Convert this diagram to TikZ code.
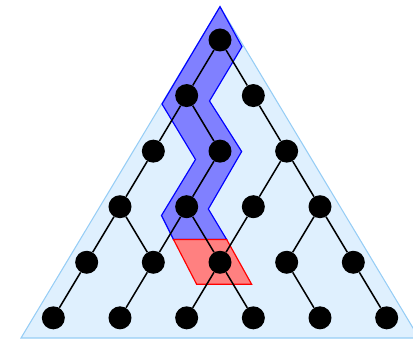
\documentclass[tikz,border=0pt]{standalone}
\definecolor{trifill}{RGB}{223,240,254}
\definecolor{triline}{RGB}{150,205,245}
\begin{document}
\begin{tikzpicture}[
        dot/.style={circle, fill=black, inner sep=0pt, minimum size=0.69cm},
        link/.style={line width=1.3pt, black}
    ]

    \useasboundingbox (-6.6,-8.97) rectangle (5.79,1.2);

    % Triangle
    \draw[triline, fill=trifill, line width=0.9pt] (0,1) -- (-5.97,-8.94) -- (5.97,-8.94) -- cycle;

    % Blue band
    \draw[blue, fill=blue!50, line width=1pt] (0,1) -- (0.66,-0.2) -- (-0.315,-1.83) -- (0.65,-3.345)
        -- (-0.35,-5.07) -- (0.2,-5.985) -- (-1.395,-5.985) -- (-1.755,-5.265)
        -- (-0.735,-3.585) -- (-1.74,-1.92) -- cycle;

    % Red step
    \draw[red, fill=red!50, line width=1pt] (-1.395,-5.985) -- (0.2,-5.985) -- (0.95,-7.33) -- (-0.7,-7.33) -- cycle;

    % Points
    \foreach \r in {0,...,5} {
        \foreach \k in {0,...,\r} {
            \node[dot] (n\r\k) at ({2*\k-\r}, {-1.667*\r}) {};
        }
    }

    % Links
    \foreach \a/\b in {n00/n10, n00/n11, n10/n20, n10/n21, n11/n22,
                       n20/n30, n21/n31, n22/n32, n22/n33,
                       n30/n40, n30/n41, n31/n41, n31/n42, n32/n42, n33/n43, n33/n44,
                       n40/n50, n41/n51, n42/n52, n42/n53, n43/n54, n44/n55}
        \draw[link] (\a) -- (\b);

\end{tikzpicture}
\end{document}
